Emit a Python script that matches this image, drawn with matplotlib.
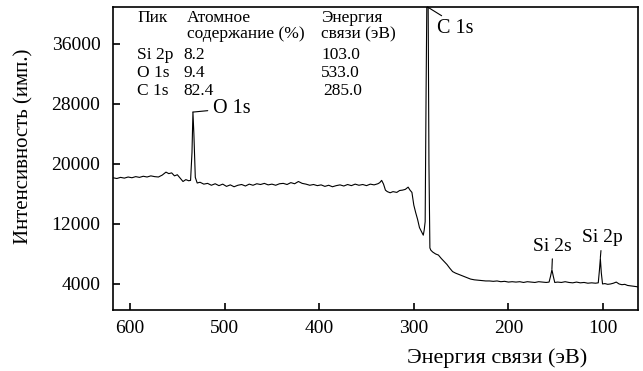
import matplotlib
matplotlib.use('Agg')
import matplotlib.pyplot as plt

plt.rcParams['font.family'] = ['Liberation Serif', 'DejaVu Serif']

# XPS survey spectrum (binding energy, eV -> intensity, counts)
energy = [618, 614, 610, 606, 602, 598, 594, 590, 586, 582, 578, 574, 570, 566, 562,
          559, 556, 553, 550, 547, 544, 541, 538, 536, 534.5, 533.5, 532.5, 531, 529,
          526, 522, 518, 514, 510, 506, 502, 498, 494, 490, 486, 482, 478, 474, 470,
          466, 462, 458, 454, 450, 446, 442, 438, 434, 430, 426, 422, 418, 414, 410,
          406, 402, 398, 394, 390, 386, 382, 378, 374, 370, 366, 362, 358, 354, 350,
          346, 342, 338, 336, 334, 332, 330, 328, 325, 322, 318, 315, 312, 309, 306,
          304, 302, 300, 298, 296, 294, 292, 290, 289, 288, 287, 286, 285, 284, 283,
          282, 280, 277, 274, 271, 268, 265, 262, 259, 256, 252, 248, 244, 240, 236,
          232, 228, 224, 220, 216, 212, 208, 204, 200, 196, 192, 188, 184, 180, 176,
          172, 168, 164, 160, 157, 155.5, 154, 152.5, 151, 148, 144, 140, 136, 132,
          128, 124, 120, 116, 112, 108, 105, 103.8, 102.8, 101.8, 100.5, 98, 95, 92,
          89, 86, 83, 80, 77, 74, 71, 68, 65, 63]
intensity = [18150, 18050, 18200, 18100, 18250, 18150, 18300, 18200, 18350, 18250,
             18400, 18300, 18250, 18500, 18900, 18700, 18800, 18400, 18550, 18100,
             17650, 17900, 17750, 17800, 21500, 26900, 24000, 18200, 17450, 17550,
             17300, 17400, 17150, 17350, 17100, 17300, 17000, 17200, 16950, 17150,
             17250, 17050, 17300, 17150, 17350, 17250, 17400, 17200, 17300, 17150,
             17350, 17400, 17250, 17500, 17350, 17650, 17400, 17300, 17150, 17250,
             17100, 17200, 17000, 17150, 16950, 17100, 17200, 17050, 17250, 17100,
             17300, 17150, 17250, 17100, 17300, 17200, 17350, 17500, 17800, 17300,
             16500, 16300, 16150, 16300, 16200, 16450, 16500, 16600, 16900, 16500,
             16200, 14500, 13500, 12600, 11500, 11000, 10500, 11200, 12300, 30000,
             45000, 45000, 20000, 8800, 8500, 8250, 8000, 7850, 7400, 7000, 6600,
             6100, 5650, 5450, 5250, 5050, 4850, 4650, 4550, 4500, 4450, 4400, 4400,
             4350, 4400, 4300, 4350, 4250, 4300, 4250, 4300, 4200, 4300, 4250, 4200,
             4300, 4250, 4200, 4250, 5000, 5900, 5000, 4200, 4250, 4200, 4300, 4200,
             4150, 4250, 4150, 4200, 4100, 4150, 4100, 4150, 5800, 7400, 5500, 4000,
             4050, 3950, 4000, 4100, 4250, 4000, 3900, 3950, 3800, 3750, 3700, 3650,
             3600]

# composition table
table_head = [('Пик', ''), ('Атомное', 'содержание (%)'), ('Энергия', 'связи (эВ)')]
peaks = ['Si 2p', 'O 1s', 'C 1s']
content = ['8.2', '9.4', '82.4']
bind_energy = ['103.0', '533.0', '285.0']

fig = plt.figure(figsize=(6.43, 3.71), dpi=100)
ax = fig.add_axes([113 / 643, 1 - 310 / 371, 525 / 643, 303 / 371])

ax.plot(energy, intensity, color='black', lw=0.8)

ax.set_xlim(618, 63)
ax.set_ylim(530, 40900)
ax.set_xticks([600, 500, 400, 300, 200, 100])
ax.set_yticks([4000, 12000, 20000, 28000, 36000])
ax.tick_params(direction='in', length=5, width=1.2, labelsize=14)
ax.tick_params(axis='y', pad=9)
ax.tick_params(axis='x', pad=7)
for s in ax.spines.values():
    s.set_linewidth(1.2)

ax.set_ylabel('Интенсивность (имп.)', fontsize=15)
ax.yaxis.set_label_coords(-0.152, 0.541)
ax.set_xlabel('Энергия связи (эВ)', fontsize=16)
ax.xaxis.set_label_coords(0.732, -0.125)


def px(x, y):
    # axes fraction from pixel position in the figure
    return (x - 113) / 525, (310 - y) / 303


# table in the upper left corner
fs_tab = 12.5
cols = [137, 187, 321]
for c, (h1, h2) in zip(cols, table_head):
    ax.text(*px(c, 22), h1, transform=ax.transAxes, fontsize=fs_tab)
    if h2:
        ax.text(*px(c, 38), h2, transform=ax.transAxes, fontsize=fs_tab)
rows_y = [59, 77, 95]
for yy, p, c, e in zip(rows_y, peaks, content, bind_energy):
    ax.text(*px(137, yy), p, transform=ax.transAxes, fontsize=fs_tab)
    ax.text(*px(183, yy), c, transform=ax.transAxes, fontsize=fs_tab)
    ax.text(*px(321 if e != '285.0' else 323, yy), e, transform=ax.transAxes, fontsize=fs_tab)

# peak labels
line = dict(arrowstyle='-', lw=0.8, color='black', shrinkA=0, shrinkB=0)
ax.annotate('C 1s', xy=(285.5, 40900), xytext=(275.5, 38100), fontsize=14.5,
            ha='left', va='center', arrowprops=dict(line, relpos=(0.25, 1.0)))
ax.annotate('O 1s', xy=(533.5, 26900), xytext=(512, 27400), fontsize=14.5,
            ha='left', va='center', arrowprops=dict(line, shrinkA=2))
ax.annotate('Si 2s', xy=(154, 6000), xytext=(153, 7900), fontsize=14,
            ha='center', va='bottom', arrowprops=dict(line, shrinkA=1))
ax.annotate('Si 2p', xy=(102.8, 7500), xytext=(101, 9000), fontsize=14,
            ha='center', va='bottom', arrowprops=dict(line, shrinkA=1))

fig.savefig('out.png', dpi=100)
